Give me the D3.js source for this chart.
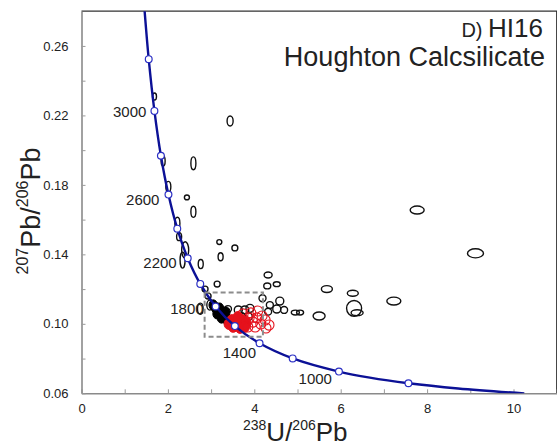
<!DOCTYPE html>
<html>
<head>
<meta charset="utf-8">
<script src="https://cdn.jsdelivr.net/npm/d3@7"></script>
<style>
  body { margin: 0; background: #fff; }
  svg { font-family: "Liberation Sans", Arial, sans-serif; }
</style>
</head>
<body>
<div id="chart"></div>
<script>

// Concordia points (age in Ma, 238U/206Pb, 207Pb/206Pb)
var concAge = [3400, 3200, 3000, 2800, 2600, 2400, 2200, 2000, 1800, 1600, 1400, 1200, 1000, 900, 800, 700, 600];
var concX   = [1.44, 1.556, 1.688, 1.838, 2.013, 2.217, 2.459, 2.749, 3.105, 3.550, 4.122, 4.888, 5.959, 6.674, 7.568, 8.718, 10.25];
var concY   = [0.2868, 0.2524, 0.2226, 0.1968, 0.1744, 0.1548, 0.1378, 0.1230, 0.1100, 0.0987, 0.0888, 0.0801, 0.0725, 0.0690, 0.0658, 0.0628, 0.0599];

var markerAges = [3200, 3000, 2800, 2600, 2400, 2200, 2000, 1800, 1600, 1400, 1200, 1000, 800];
var labelAges  = [3000, 2600, 2200, 1800, 1400, 1000];

var xTicks = [0, 2, 4, 6, 8, 10];
var yTicks = [0.06, 0.10, 0.14, 0.18, 0.22, 0.26];

// Zoom box (238U/206Pb range, 207Pb/206Pb range)
var boxX = [2.85, 4.2];
var boxY = [0.0925, 0.118];

// Analyses: centre and half-axes of each error ellipse
var blackOpen = [
  {x:1.69,y:0.2309,sx:0.046,sy:0.0020}, {x:3.44,y:0.2168,sx:0.070,sy:0.0029},
  {x:2.59,y:0.1924,sx:0.058,sy:0.0037}, {x:1.89,y:0.1937,sx:0.046,sy:0.0029},
  {x:2.01,y:0.1789,sx:0.058,sy:0.0031}, {x:2.44,y:0.1728,sx:0.058,sy:0.0014},
  {x:2.59,y:0.1645,sx:0.058,sy:0.0032}, {x:2.22,y:0.1579,sx:0.058,sy:0.0035},
  {x:2.26,y:0.1502,sx:0.058,sy:0.0023}, {x:2.40,y:0.1425,sx:0.081,sy:0.0048},
  {x:2.34,y:0.1367,sx:0.058,sy:0.0046}, {x:2.76,y:0.1344,sx:0.058,sy:0.0026},
  {x:3.19,y:0.1471,sx:0.058,sy:0.0014}, {x:3.22,y:0.1386,sx:0.058,sy:0.0023},
  {x:3.55,y:0.1437,sx:0.069,sy:0.0017}, {x:3.14,y:0.1229,sx:0.069,sy:0.0017},
  {x:2.86,y:0.1200,sx:0.069,sy:0.0017}, {x:2.93,y:0.1160,sx:0.069,sy:0.0017},
  {x:4.32,y:0.1281,sx:0.093,sy:0.0017}, {x:4.30,y:0.1218,sx:0.081,sy:0.0017},
  {x:4.52,y:0.1228,sx:0.081,sy:0.0014}, {x:4.19,y:0.1147,sx:0.081,sy:0.0020},
  {x:4.59,y:0.1131,sx:0.093,sy:0.0023}, {x:4.36,y:0.1108,sx:0.081,sy:0.0020},
  {x:4.52,y:0.1085,sx:0.093,sy:0.0023}, {x:4.32,y:0.1070,sx:0.081,sy:0.0020},
  {x:4.69,y:0.1080,sx:0.081,sy:0.0020}, {x:4.95,y:0.1065,sx:0.093,sy:0.0014},
  {x:5.06,y:0.1065,sx:0.081,sy:0.0014}, {x:5.50,y:0.1045,sx:0.139,sy:0.0023},
  {x:5.68,y:0.1200,sx:0.127,sy:0.0020}, {x:6.28,y:0.1176,sx:0.127,sy:0.0017},
  {x:7.23,y:0.1131,sx:0.162,sy:0.0023}, {x:9.12,y:0.1406,sx:0.185,sy:0.0026},
  {x:7.77,y:0.1655,sx:0.162,sy:0.0023}, {x:6.31,y:0.1089,sx:0.174,sy:0.0045},
  {x:6.38,y:0.1064,sx:0.139,sy:0.0017}, {x:2.75,y:0.1087,sx:0.065,sy:0.0032},
  {x:2.97,y:0.1108,sx:0.069,sy:0.0029}, {x:3.39,y:0.1085,sx:0.081,sy:0.0020},
  {x:3.63,y:0.1080,sx:0.093,sy:0.0023}, {x:3.78,y:0.1080,sx:0.093,sy:0.0023},
  {x:3.90,y:0.1089,sx:0.093,sy:0.0023}, {x:3.71,y:0.1041,sx:0.093,sy:0.0023},
  {x:3.86,y:0.1041,sx:0.093,sy:0.0023}
];

var blackFilled = [
  {x:3.05,y:0.1108,sx:0.10,sy:0.0030}, {x:3.12,y:0.1090,sx:0.11,sy:0.0032},
  {x:3.18,y:0.1076,sx:0.11,sy:0.0032}, {x:3.23,y:0.1062,sx:0.11,sy:0.0032},
  {x:3.27,y:0.1050,sx:0.11,sy:0.0032}, {x:3.32,y:0.1038,sx:0.11,sy:0.0032},
  {x:3.37,y:0.1026,sx:0.11,sy:0.0032}, {x:3.41,y:0.1014,sx:0.11,sy:0.0032},
  {x:3.24,y:0.1034,sx:0.10,sy:0.0030}, {x:3.14,y:0.1058,sx:0.10,sy:0.0030},
  {x:3.34,y:0.1068,sx:0.10,sy:0.0030}, {x:3.20,y:0.1092,sx:0.09,sy:0.0028}
];

var redFilled = [
  {x:3.48,y:0.1022,sx:0.11,sy:0.0031}, {x:3.60,y:0.1005,sx:0.11,sy:0.0031},
  {x:3.72,y:0.1022,sx:0.11,sy:0.0031}, {x:3.81,y:0.1010,sx:0.11,sy:0.0031},
  {x:3.51,y:0.0982,sx:0.11,sy:0.0031}, {x:3.67,y:0.0976,sx:0.11,sy:0.0031},
  {x:3.78,y:0.0982,sx:0.11,sy:0.0031}, {x:3.41,y:0.0999,sx:0.11,sy:0.0031},
  {x:3.62,y:0.1040,sx:0.11,sy:0.0031}
];

var redOpen = [
  {x:3.74,y:0.1057,sx:0.116,sy:0.0029}, {x:3.88,y:0.1034,sx:0.116,sy:0.0029},
  {x:3.97,y:0.1010,sx:0.116,sy:0.0029}, {x:4.06,y:0.1034,sx:0.116,sy:0.0029},
  {x:4.15,y:0.0999,sx:0.116,sy:0.0029}, {x:4.25,y:0.1022,sx:0.116,sy:0.0029},
  {x:4.34,y:0.0993,sx:0.116,sy:0.0029}, {x:4.02,y:0.0982,sx:0.116,sy:0.0029},
  {x:3.85,y:0.0982,sx:0.116,sy:0.0029}, {x:4.18,y:0.1045,sx:0.116,sy:0.0029},
  {x:4.27,y:0.0976,sx:0.116,sy:0.0029}, {x:3.92,y:0.1063,sx:0.116,sy:0.0029},
  {x:4.08,y:0.1074,sx:0.116,sy:0.0029}
];

var concordia = concAge.map(function(a, i){ return {age: a, x: concX[i], y: concY[i]}; });

var width = 557, height = 446;
var margin = {top: 11.2, right: 0.3, bottom: 52.7, left: 81.5};

var svg = d3.select("#chart").append("svg")
  .attr("width", width)
  .attr("height", height);

var x = d3.scaleLinear()
  .domain([0, 11])
  .range([margin.left, width - margin.right]);

var y = d3.scaleLinear()
  .domain([0.06, 0.28])
  .range([height - margin.bottom, margin.top]);

svg.append("clipPath")
  .attr("id", "plot-clip")
  .append("rect")
  .attr("x", x(0)).attr("y", y(0.28))
  .attr("width", x(11) - x(0)).attr("height", y(0.06) - y(0.28));

// top / right frame
svg.append("path")
  .attr("d", "M" + x(0) + "," + y(0.28) + "H" + x(11) + "V" + y(0.06))
  .attr("fill", "none")
  .attr("stroke", "#333")
  .attr("stroke-width", 1.2);

// Axes
var xAxis = d3.axisBottom(x)
  .tickValues(d3.range(0, 12, 1))
  .tickFormat(function(d){ return xTicks.indexOf(d) >= 0 ? d : ""; })
  .tickSizeInner(-4).tickSizeOuter(0).tickPadding(10);

var yAxis = d3.axisLeft(y)
  .tickValues(d3.range(0, 12).map(function(i){ return +(0.06 + i * 0.02).toFixed(2); }))
  .tickFormat(function(d){
    return yTicks.some(function(t){ return Math.abs(t - d) < 1e-6; }) ? d3.format(".2f")(d) : "";
  })
  .tickSizeInner(-4).tickSizeOuter(0).tickPadding(13);

var gx = svg.append("g")
  .attr("class", "axis x-axis")
  .attr("transform", "translate(0," + y(0.06) + ")")
  .call(xAxis);

var gy = svg.append("g")
  .attr("class", "axis y-axis")
  .attr("transform", "translate(" + x(0) + ",0)")
  .call(yAxis);

[gx, gy].forEach(function(g){
  g.select(".domain").attr("stroke", "#8a8a8a").attr("stroke-width", 1.6);
  g.selectAll(".tick line").attr("stroke", "#9a9a9a").attr("stroke-width", 1);
  g.selectAll(".tick text").attr("fill", "#222").style("font-size", "13px")
    .style("font-family", "'Liberation Sans', Arial, sans-serif");
});
gy.selectAll(".tick").filter(function(d){ return d > 0.275; }).remove();

// Ellipses
var plot = svg.append("g").attr("clip-path", "url(#plot-clip)");

function drawEllipses(data, cls, fill, stroke, sw){
  plot.append("g").attr("class", cls)
    .selectAll("ellipse")
    .data(data)
    .enter()
    .append("ellipse")
    .attr("cx", function(d){ return x(d.x); })
    .attr("cy", function(d){ return y(d.y); })
    .attr("rx", function(d){ return x(d.x + d.sx) - x(d.x); })
    .attr("ry", function(d){ return y(d.y) - y(d.y + d.sy); })
    .attr("fill", fill)
    .attr("stroke", stroke)
    .attr("stroke-width", sw);
}

drawEllipses(blackOpen, "black-open", "none", "#111", 1.4);
drawEllipses(blackFilled, "black-filled", "#000", "#000", 1);
drawEllipses(redFilled, "red-filled", "#e5121c", "#e5121c", 1);
drawEllipses(redOpen, "red-open", "none", "#e5121c", 1.1);

// Zoom box
svg.append("rect")
  .attr("x", x(boxX[0]))
  .attr("y", y(boxY[1]))
  .attr("width", x(boxX[1]) - x(boxX[0]))
  .attr("height", y(boxY[0]) - y(boxY[1]))
  .attr("fill", "none")
  .attr("stroke", "#8c8c8c")
  .attr("stroke-width", 2)
  .attr("stroke-dasharray", "5,3");

// Concordia
var line = d3.line()
  .x(function(d){ return x(d.x); })
  .y(function(d){ return y(d.y); })
  .curve(d3.curveCatmullRom);

plot.append("path")
  .datum(concordia)
  .attr("d", line)
  .attr("fill", "none")
  .attr("stroke", "#0c1196")
  .attr("stroke-width", 2.4);

var markers = concordia.filter(function(d){ return markerAges.indexOf(d.age) >= 0; });

svg.selectAll(".marker")
  .data(markers)
  .enter()
  .append("circle")
  .attr("class", "marker")
  .attr("cx", function(d){ return x(d.x); })
  .attr("cy", function(d){ return y(d.y); })
  .attr("r", 3.4)
  .attr("fill", "#fff")
  .attr("stroke", "#2b2fc4")
  .attr("stroke-width", 1.2);

// age labels, offset from their marker
var labelOffset = {
  3000: [-8, 6], 2600: [-9, 10], 2200: [-11, 9.5], 1800: [-12, 7.5],
  1400: [-3.5, 14.5], 1000: [-7, 12.5]
};

svg.selectAll(".age-label")
  .data(concordia.filter(function(d){ return labelAges.indexOf(d.age) >= 0; }))
  .enter()
  .append("text")
  .attr("class", "age-label")
  .attr("x", function(d){ return x(d.x) + labelOffset[d.age][0]; })
  .attr("y", function(d){ return y(d.y) + labelOffset[d.age][1]; })
  .attr("text-anchor", "end")
  .attr("fill", "#222")
  .style("font-size", "15px")
  .text(function(d){ return d.age; });

// Sample title
var t1 = svg.append("text")
  .attr("x", 543).attr("y", 37)
  .attr("text-anchor", "end")
  .attr("fill", "#222");
t1.append("tspan").style("font-size", "20px").text("D) ");
t1.append("tspan").style("font-size", "26px").text("HI16");

svg.append("text")
  .attr("x", 545).attr("y", 66)
  .attr("text-anchor", "end")
  .attr("fill", "#222")
  .style("font-size", "27px")
  .text("Houghton Calcsilicate");

// Axis titles
var xt = svg.append("text")
  .attr("x", 243).attr("y", 441)
  .attr("fill", "#222");
xt.append("tspan").style("font-size", "14px").attr("dy", -11).text("238");
xt.append("tspan").style("font-size", "26px").attr("dy", 11).text("U/");
xt.append("tspan").style("font-size", "14px").attr("dy", -11).text("206");
xt.append("tspan").style("font-size", "26px").attr("dy", 11).text("Pb");

var yt = svg.append("text")
  .attr("transform", "translate(40,211) rotate(-90)")
  .attr("text-anchor", "middle")
  .attr("fill", "#222");
yt.append("tspan").style("font-size", "16px").attr("dy", -12).text("207");
yt.append("tspan").style("font-size", "27px").attr("dy", 12).text("Pb/");
yt.append("tspan").style("font-size", "16px").attr("dy", -12).text("206");
yt.append("tspan").style("font-size", "27px").attr("dy", 12).text("Pb");

</script>
</body>
</html>
